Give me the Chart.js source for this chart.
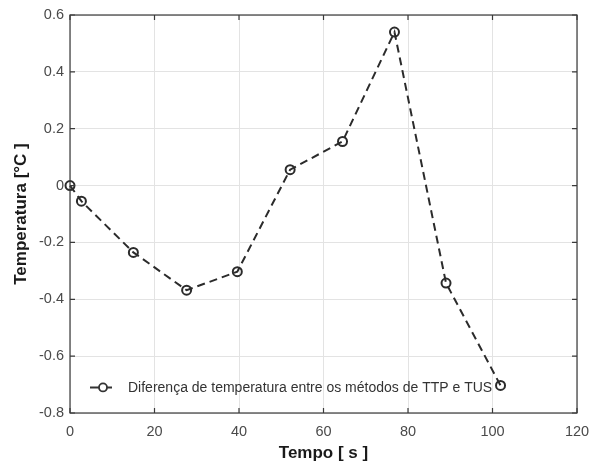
<!DOCTYPE html>
<html>
<head>
<meta charset="utf-8">
<script src="https://cdn.jsdelivr.net/npm/chart.js@4/dist/chart.umd.min.js"></script>
<style>
html,body{margin:0;padding:0;background:#fff;}
#wrap{width:591px;height:465px;}
</style>
</head>
<body>
<div id="wrap"><canvas id="c" width="591" height="465"></canvas></div>
<script>
const timeValues = [0, 2.7, 15, 27.6, 39.6, 52.1, 64.5, 76.8, 89, 101.9];
const tempDiff = [0, -0.055, -0.235, -0.368, -0.303, 0.056, 0.155, 0.54, -0.343, -0.703];
const seriesLabel = 'Diferença de temperatura entre os métodos de TTP e TUS';
const xTicks = [0, 20, 40, 60, 80, 100, 120];
const yTicks = [-0.8, -0.6, -0.4, -0.2, 0, 0.2, 0.4, 0.6];
const xTitle = 'Tempo [ s ]';
const yTitle = 'Temperatura [°C ]';

const FONT = '"Liberation Sans", Arial, Helvetica, sans-serif';

const points = timeValues.map((x, i) => ({x: x, y: tempDiff[i]}));

const frame = {
  id: 'frame',
  afterDatasetsDraw(chart) {
    const {ctx, chartArea: a, scales} = chart;
    ctx.save();
    ctx.strokeStyle = '#3a3a3a';
    ctx.lineWidth = 1.2;
    const L = 5;
    ctx.beginPath();
    xTicks.forEach(v => {
      const px = scales.x.getPixelForValue(v);
      ctx.moveTo(px, a.bottom); ctx.lineTo(px, a.bottom - L);
      ctx.moveTo(px, a.top); ctx.lineTo(px, a.top + L);
    });
    yTicks.forEach(v => {
      const py = scales.y.getPixelForValue(v);
      ctx.moveTo(a.left, py); ctx.lineTo(a.left + L, py);
      ctx.moveTo(a.right, py); ctx.lineTo(a.right - L, py);
    });
    ctx.stroke();
    ctx.strokeRect(a.left, a.top, a.right - a.left, a.bottom - a.top);
    // legend
    const ly = scales.y.getPixelForValue(-0.71);
    const lx = a.left + 20;
    ctx.strokeStyle = '#333';
    ctx.lineWidth = 2;
    ctx.beginPath();
    ctx.moveTo(lx, ly); ctx.lineTo(lx + 9, ly);
    ctx.moveTo(lx + 17, ly); ctx.lineTo(lx + 22, ly);
    ctx.stroke();
    ctx.lineWidth = 1.8;
    ctx.beginPath();
    ctx.arc(lx + 13, ly, 4, 0, Math.PI * 2);
    ctx.stroke();
    ctx.fillStyle = '#333';
    ctx.font = '14px ' + FONT;
    ctx.textBaseline = 'middle';
    ctx.textAlign = 'left';
    ctx.fillText(seriesLabel, lx + 38, ly + 1);
    ctx.restore();
  }
};

new Chart(document.getElementById('c'), {
  type: 'scatter',
  data: {
    datasets: [{
      label: seriesLabel,
      data: points,
      showLine: true,
      clip: false,
      borderColor: '#2b2b2b',
      borderWidth: 2,
      borderDash: [8, 5],
      pointStyle: 'circle',
      pointRadius: 4.5,
      pointBorderWidth: 2,
      pointBorderColor: '#2b2b2b',
      pointBackgroundColor: 'rgba(255,255,255,0)',
      tension: 0
    }]
  },
  options: {
    responsive: false,
    animation: false,
    devicePixelRatio: 1,
    layout: {padding: {left: 0, right: 14, top: 15, bottom: 0}},
    plugins: {legend: {display: false}, tooltip: {enabled: false}},
    scales: {
      x: {
        type: 'linear', min: 0, max: 120,
        afterBuildTicks: s => { s.ticks = xTicks.map(v => ({value: v})); },
        afterFit: s => { s.height = 52; s.paddingRight = 0; s.paddingLeft = 0; },
        grid: {color: '#e3e3e3', lineWidth: 1, drawTicks: false},
        border: {display: false},
        ticks: {color: '#4a4a4a', font: {family: FONT, size: 14.5}, padding: 10, maxRotation: 0},
        title: {display: true, text: xTitle, color: '#1a1a1a', font: {family: FONT, size: 17, weight: 'bold'}, padding: {top: 2, bottom: 1}}
      },
      y: {
        type: 'linear', min: -0.8, max: 0.6,
        afterBuildTicks: s => { s.ticks = yTicks.map(v => ({value: v})); },
        afterFit: s => { s.width = 70; s.paddingTop = 0; s.paddingBottom = 0; },
        grid: {color: '#e3e3e3', lineWidth: 1, drawTicks: false},
        border: {display: false},
        ticks: {color: '#4a4a4a', font: {family: FONT, size: 14.5}, padding: 6,
          callback: v => (Math.round(v * 10) / 10).toString()},
        title: {display: true, text: yTitle, color: '#1a1a1a', font: {family: FONT, size: 17, weight: 'bold'}, padding: {top: 11, bottom: 4}}
      }
    }
  },
  plugins: [frame]
});
</script>
</body>
</html>
